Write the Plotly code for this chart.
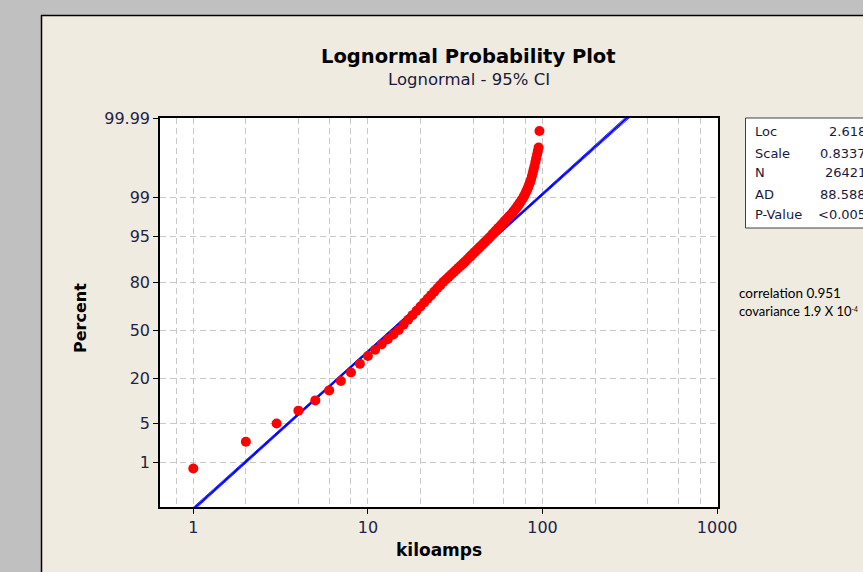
import plotly.graph_objects as go
import numpy as np
from statistics import NormalDist

# 데이터: kiloamps (정수 값) 과 누적 백분율
kiloamps = list(range(1, 97))
percent = [
    0.76, 2.50, 5.05, 7.87, 10.86, 14.48, 18.54, 22.81, 27.66, 32.49,
    36.43, 40.13, 43.64, 46.93, 50.00, 53.68, 57.10, 60.30, 63.25, 65.98,
    68.51, 70.83, 72.98, 74.98, 76.79, 78.45, 80.00, 81.25, 82.40, 83.48,
    84.47, 85.39, 86.25, 87.06, 87.80, 88.49, 89.18, 89.82, 90.41, 90.95,
    91.47, 91.95, 92.40, 92.82, 93.22, 93.58, 93.93, 94.25, 94.56, 94.84,
    95.14, 95.41, 95.67, 95.91, 96.13, 96.34, 96.54, 96.73, 96.90, 97.06,
    97.22, 97.36, 97.50, 97.63, 97.75, 97.87, 97.98, 98.09, 98.20, 98.31,
    98.41, 98.51, 98.61, 98.70, 98.79, 98.87, 98.95, 99.03, 99.11, 99.19,
    99.26, 99.33, 99.40, 99.47, 99.53, 99.59, 99.655, 99.71, 99.76, 99.80,
    99.84, 99.870, 99.895, 99.915, 99.932, 99.976,
]

# 적합 파라미터 (범례 상자)
loc = 2.618
scale = 0.8337
n_obs = 26421
stat_labels = ["Loc", "Scale", "N", "AD", "P-Value"]
stat_values = ["2.618", "0.8337", "26421", "88.588", "<0.005"]

y_tick_pct = [1, 5, 20, 50, 80, 95, 99, 99.99]
y_tick_text = ["1", "5", "20", "50", "80", "95", "99", "99.99"]
x_tick_vals = [1, 10, 100, 1000]
x_grid_vals = [0.8, 2, 4, 6, 8, 20, 40, 60, 80, 200, 400, 600, 800]

nd = NormalDist()
z = lambda p: nd.inv_cdf(p / 100.0)

# 픽셀 -> paper 좌표
W, H = 863, 572
ML, MR, MT, MB = 160, 145, 118, 65
PW, PH = W - ML - MR, H - MT - MB
px = lambda x: (x - ML) / PW
py = lambda y: (H - MB - y) / PH

fig = go.Figure()

# 적합선과 95% 신뢰구간
zz = np.linspace(-3.4, 3.9, 40)
se = scale * np.sqrt((1 + zz ** 2 / 2) / n_obs)
fit_x = np.exp(loc + scale * zz)
for off in (-1.96, 1.96):
    fig.add_trace(go.Scatter(x=np.exp(loc + scale * zz + off * se), y=zz, mode="lines",
                             line=dict(color="#3030ff", width=1), hoverinfo="skip"))
fig.add_trace(go.Scatter(x=fit_x, y=zz, mode="lines", line=dict(color="#0000ff", width=1.8)))

# 데이터 점
fig.add_trace(go.Scatter(x=kiloamps, y=[z(p) for p in percent], mode="markers",
                         marker=dict(color="#ff0000", size=10, line=dict(width=0))))

grid = dict(showgrid=True, gridcolor="#c8c8c8", gridwidth=1, griddash="6px,4px")
fig.update_xaxes(type="log", range=[-0.1906, 3.005], tickvals=x_tick_vals,
                 ticktext=[str(v) for v in x_tick_vals],
                 ticks="outside", ticklen=5, tickcolor="black",
                 showline=True, linecolor="black", linewidth=1.5, mirror=True,
                 zeroline=False, tickfont=dict(size=16, color="#232346"),
                 minor=dict(tickvals=x_grid_vals, showgrid=True, gridcolor="#c8c8c8",
                            griddash="6px,4px", ticks=""),
                 **grid)
fig.update_yaxes(range=[-3.104, z(99.99)], tickvals=[z(p) for p in y_tick_pct],
                 ticktext=y_tick_text, ticks="outside", ticklen=5, tickcolor="black",
                 showline=True, linecolor="black", linewidth=1.5, mirror=True,
                 zeroline=False, tickfont=dict(size=16, color="#232346"), **grid)

shapes = [
    # 회색 바깥 영역
    dict(type="rect", xref="paper", yref="paper", x0=px(-5), x1=px(41), y0=py(H + 5), y1=py(-5),
         fillcolor="#c0c0c0", line=dict(width=0), layer="below"),
    dict(type="rect", xref="paper", yref="paper", x0=px(-5), x1=px(W + 5), y0=py(15), y1=py(-5),
         fillcolor="#c0c0c0", line=dict(width=0), layer="below"),
    dict(type="line", xref="paper", yref="paper", x0=px(41.5), x1=px(41.5), y0=py(15), y1=py(H + 5),
         line=dict(color="black", width=1.5)),
    dict(type="line", xref="paper", yref="paper", x0=px(41), x1=px(W + 5), y0=py(15.5), y1=py(15.5),
         line=dict(color="black", width=1.5)),
    # 통계 상자
    dict(type="rect", xref="paper", yref="paper", x0=px(745.5), x1=px(W + 20), y0=py(228), y1=py(118),
         fillcolor="white", line=dict(color="#404040", width=1)),
]

ann = [
    dict(text="<b>Lognormal Probability Plot</b>", x=px(468), y=py(57),
         font=dict(family="DejaVu Sans", size=19.5, color="black")),
    dict(text="Lognormal - 95% CI", x=px(469), y=py(80),
         font=dict(family="DejaVu Sans", size=16.5, color="#1a1a3a")),
    dict(text="<b>Percent</b>", x=px(80), y=py(318), textangle=-90,
         font=dict(family="DejaVu Sans", size=16, color="black")),
    dict(text="<b>kiloamps</b>", x=px(439), y=py(550),
         font=dict(family="DejaVu Sans", size=17, color="black")),
    dict(text="correlation 0.951", x=px(737), y=py(293), xanchor="left",
         font=dict(family="Lato", size=13.5, color="black")),
    dict(text="covariance 1.9 X 10<span style='font-size:9.5px'><sup>-4</sup></span>",
         x=px(737), y=py(311), xanchor="left",
         font=dict(family="Lato", size=13, color="black")),
]
rows_y = [131, 153, 173, 194, 214]
for lab, val, ry in zip(stat_labels, stat_values, rows_y):
    ann.append(dict(text=lab, x=px(753), y=py(ry), xanchor="left",
                    font=dict(family="DejaVu Sans", size=13, color="#1a1a3a")))
    ann.append(dict(text=val, x=px(868), y=py(ry), xanchor="right",
                    font=dict(family="DejaVu Sans", size=13, color="#1a1a3a")))
for a in ann:
    a.update(xref="paper", yref="paper", showarrow=False)
    a.setdefault("xanchor", "center")
    a.setdefault("yanchor", "middle")

fig.update_layout(
    width=W, height=H,
    margin=dict(l=ML, r=MR, t=MT, b=MB),
    paper_bgcolor="#efebe1",
    plot_bgcolor="white",
    showlegend=False,
    font=dict(family="DejaVu Sans", color="#232346"),
    shapes=shapes,
    annotations=ann,
)

# 페이지 기본 여백 제거
fig.write_html("out.html", config={"displayModeBar": False},
               post_script="document.body.style.margin='0';document.body.style.overflow='hidden';")
